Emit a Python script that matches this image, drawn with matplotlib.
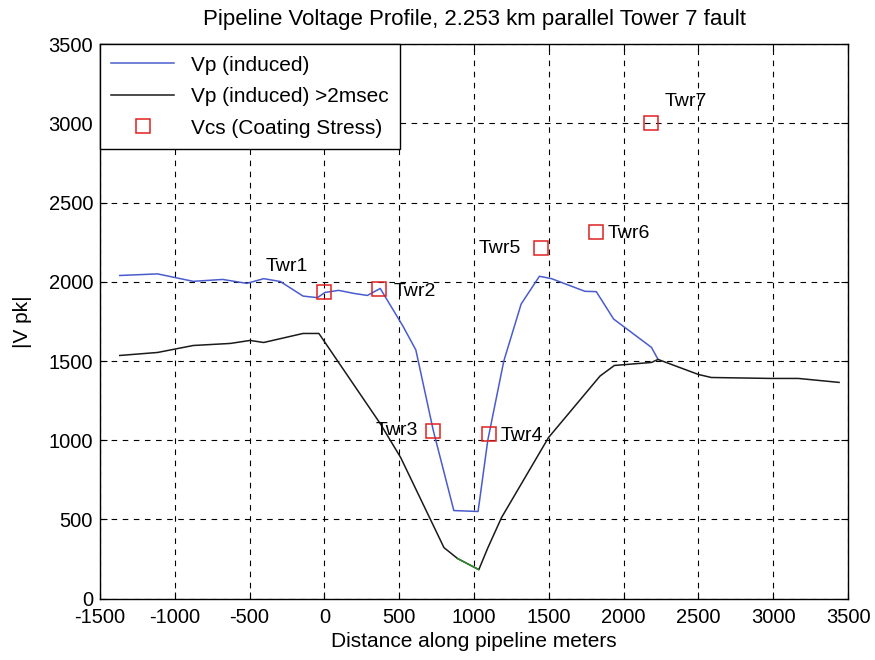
import matplotlib
matplotlib.use("Agg")
import matplotlib.pyplot as plt

plt.rcParams['font.family'] = ['Liberation Sans', 'DejaVu Sans']
plt.rcParams['axes.unicode_minus'] = False

# Vp (induced) - blue
vp_x = [-1368, -1115, -963, -877, -680, -518, -406, -295, -143, -47, 4, 95, 196, 287, 373,
        525, 611, 728, 865, 1027, 1092, 1199, 1315, 1437, 1518, 1741, 1817, 1933, 2186, 2230]
vp_y = [2040, 2050, 2020, 2003, 2015, 1990, 2020, 2002, 1910, 1900, 1933, 1946, 1927, 1914, 1958,
        1720, 1570, 1060, 556, 550, 1000, 1500, 1860, 2035, 2020, 1940, 1938, 1765, 1586, 1510]

# Vp (induced) >2msec - black
vb_x = [-1368, -1115, -877, -629, -497, -406, -143, -37, 373, 510, 799, 890, 1032,
        1092, 1184, 1498, 1842, 1938, 2186, 2230, 2500, 2586, 2986, 3168, 3440]
vb_y = [1535, 1554, 1598, 1611, 1630, 1617, 1674, 1674, 1105, 890, 322, 253, 183,
        320, 512, 1017, 1405, 1472, 1491, 1510, 1415, 1396, 1390, 1390, 1365]

# small green segment near the minimum
vg_x = [890, 1032]
vg_y = [253, 183]

# Vcs (Coating Stress) towers
twr_names = ['Twr1', 'Twr2', 'Twr3', 'Twr4', 'Twr5', 'Twr6', 'Twr7']
twr_x = [0, 363, 728, 1098, 1447, 1817, 2186]
twr_y = [1933, 1952, 1060, 1042, 2211, 2312, 3000]

# label offsets (data units) relative to each tower
lbl_dx = [-395, 99, -386, 81, -416, 78, 85]
lbl_dy = [165, -15, 0, -10, 0, -5, 140]

fig = plt.figure(figsize=(8.75, 6.6), dpi=100)
ax = fig.add_axes([0.1143, 0.093, 0.8549, 0.840])

ax.plot(vp_x, vp_y, color='#4a5ccc', lw=1.1, label='Vp (induced)')
ax.plot(vb_x, vb_y, color='#1a1a1a', lw=1.1, label='Vp (induced) >2msec')
ax.plot(vg_x, vg_y, color='#2e8b2e', lw=1.1)
ax.plot(twr_x, twr_y, linestyle='none', marker='s', markersize=10,
        markerfacecolor='none', markeredgecolor='#e02020', markeredgewidth=1.1,
        label='Vcs (Coating Stress)')

for n, x, y, dx, dy in zip(twr_names, twr_x, twr_y, lbl_dx, lbl_dy):
    ax.text(x + dx, y + dy, n, fontsize=14, va='center', ha='left')

ax.set_xlim(-1500, 3500)
ax.set_ylim(0, 3500)
ax.set_xticks(range(-1500, 3501, 500))
ax.set_yticks(range(0, 3501, 500))
ax.tick_params(direction='in', labelsize=14.5, length=5, top=True, right=True)
ax.tick_params(axis='x', pad=7)
ax.tick_params(axis='y', pad=5)
ax.grid(True, color='black', linestyle=(0, (5, 5)), lw=0.8)
for s in ax.spines.values():
    s.set_linewidth(1.0)

ax.set_title('Pipeline Voltage Profile, 2.253 km parallel Tower 7 fault', fontsize=16, pad=14)
ax.set_xlabel('Distance along pipeline meters', fontsize=15, labelpad=3)
ax.set_ylabel('|V pk|', fontsize=15, labelpad=12)

leg = ax.legend(loc='upper left', fontsize=15, fancybox=False, framealpha=1,
                edgecolor='black', borderaxespad=0, handlelength=3,
                labelspacing=0.6, borderpad=0.55)
leg.get_frame().set_linewidth(1.0)

fig.savefig('out.png', dpi=100)
